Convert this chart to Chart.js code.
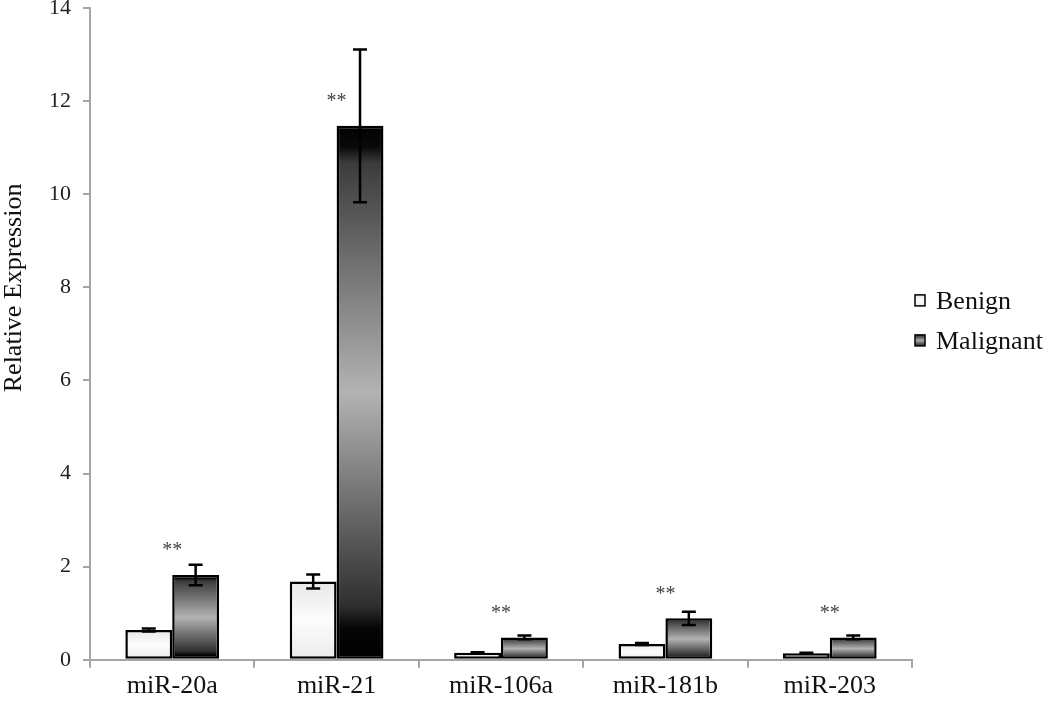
<!DOCTYPE html>
<html>
<head>
<meta charset="utf-8">
<script src="https://cdn.jsdelivr.net/npm/chart.js@4.4.1/dist/chart.umd.min.js"></script>
<style>
  html, body { margin: 0; padding: 0; background: #fff; }
  #wrap { width: 1050px; height: 705px; position: relative; }
</style>
</head>
<body>
<div id="wrap"><canvas id="chart"></canvas></div>
<script>
// Datos
const categories = ["miR-20a", "miR-21", "miR-106a", "miR-181b", "miR-203"]
const benign = [0.64, 1.68, 0.15, 0.34, 0.14]
const benignErr = [0.03, 0.15, 0.01, 0.02, 0.01]
const malignant = [1.82, 11.47, 0.48, 0.89, 0.48]
const malignantErr = [0.22, 1.64, 0.04, 0.14, 0.04]
const significance = ["**", "**", "**", "**", "**"]
const yTicks = [0, 2, 4, 6, 8, 10, 12, 14]
const yTitle = "Relative Expression"

const FONT = "'Liberation Serif', 'Times New Roman', serif"
const AXIS = "#a6a6a6"

const benignStops = [[0, "#e8e8e8"], [0.5, "#fcfcfc"], [1, "#ebebeb"]]
const malignantStops = [
  [0, "#000"], [0.04, "#0a0a0a"], [0.07, "#3c3c3c"],
  [0.5, "#b3b3b3"], [0.9, "#2e2e2e"], [0.94, "#060606"], [1, "#000"],
]

function makeGradient(ctx, top, bottom, stops) {
  const g = ctx.createLinearGradient(0, top, 0, bottom)
  stops.forEach(([o, c]) => g.addColorStop(o, c))
  return g
}

// Degradado vertical de cada barra, según su propio alto
function barGradient(ctx, stops, fallback) {
  const chart = ctx.chart
  if (ctx.type !== "data" || !chart.chartArea) return fallback
  const y = chart.scales.y
  const top = y.getPixelForValue(ctx.raw)
  const bottom = y.getPixelForValue(0)
  if (!isFinite(top) || bottom - top < 1) return fallback
  return makeGradient(chart.ctx, top, bottom, stops)
}

// Barras de error
const errorBars = {
  id: "errorBars",
  afterDatasetsDraw(chart) {
    const { ctx } = chart
    const y = chart.scales.y
    const errs = [benignErr, malignantErr]
    ctx.save()
    ctx.strokeStyle = "#000"
    ctx.lineWidth = 2.5
    chart.data.datasets.forEach((ds, di) => {
      chart.getDatasetMeta(di).data.forEach((bar, i) => {
        const v = ds.data[i]
        const e = errs[di][i]
        const yt = y.getPixelForValue(v + e)
        const yb = y.getPixelForValue(v - e)
        const cap = 7
        ctx.beginPath()
        ctx.moveTo(bar.x, yt); ctx.lineTo(bar.x, yb)
        ctx.moveTo(bar.x - cap, yt); ctx.lineTo(bar.x + cap, yt)
        ctx.moveTo(bar.x - cap, yb); ctx.lineTo(bar.x + cap, yb)
        ctx.stroke()
      })
    })
    ctx.restore()
  },
}

// Asteriscos, título del eje Y y leyenda
const annotations = {
  id: "annotations",
  afterDatasetsDraw(chart) {
    const { ctx, chartArea } = chart
    const x = chart.scales.x
    const y = chart.scales.y
    const midY = (chartArea.top + chartArea.bottom) / 2
    ctx.save()
    ctx.fillStyle = "#444"
    ctx.font = "20px " + FONT
    ctx.textAlign = "center"
    ctx.textBaseline = "middle"
    significance.forEach((s, i) => {
      ctx.fillText(s, x.getPixelForValue(i), y.getPixelForValue(malignant[i]) - 24)
    })

    // leyenda
    const legendStops = [benignStops, [[0, "#222"], [0.5, "#aaa"], [1, "#222"]]]
    ctx.textAlign = "left"
    ctx.font = "26px " + FONT
    chart.data.datasets.forEach((ds, i) => {
      const cy = midY - 33 + i * 40
      const bx = chartArea.right + 3
      ctx.fillStyle = makeGradient(ctx, cy - 6, cy + 5, legendStops[i])
      ctx.fillRect(bx, cy - 6, 10, 11)
      ctx.strokeStyle = "#000"
      ctx.lineWidth = 1.5
      ctx.strokeRect(bx, cy - 6, 10, 11)
      ctx.fillStyle = "#111"
      ctx.fillText(ds.label, chartArea.right + 24, cy + 1)
    })

    // título del eje, algo por encima del centro como en el original
    ctx.textAlign = "center"
    ctx.fillStyle = "#111"
    ctx.font = "26px " + FONT
    ctx.translate(14, midY - 46)
    ctx.rotate(-Math.PI / 2)
    ctx.fillText(yTitle, 0, 0)
    ctx.restore()
  },
}

new Chart(document.getElementById("chart"), {
  type: "bar",
  data: {
    labels: categories,
    datasets: [
      {
        label: "Benign",
        data: benign,
        backgroundColor: (c) => barGradient(c, benignStops, "#f4f4f4"),
        borderColor: "#000",
        borderWidth: 2.5,
        borderSkipped: false,
      },
      {
        label: "Malignant",
        data: malignant,
        backgroundColor: (c) => barGradient(c, malignantStops, "#888"),
        borderColor: "#000",
        borderWidth: 2.5,
        borderSkipped: false,
      },
    ],
  },
  options: {
    responsive: true,
    maintainAspectRatio: false,
    animation: false,
    layout: { padding: { top: 0, right: 138, left: 37, bottom: 0 } },
    datasets: { bar: { categoryPercentage: 0.57, barPercentage: 1 } },
    plugins: {
      tooltip: { enabled: false },
      legend: { display: false },
    },
    scales: {
      x: {
        offset: true,
        grid: { display: true, offset: true, drawOnChartArea: false, drawTicks: true, tickLength: 8, color: AXIS, lineWidth: 2 },
        border: { color: AXIS, width: 2 },
        ticks: { color: "#111", padding: 3, font: { family: FONT, size: 26 } },
      },
      y: {
        min: 0,
        max: 14,
        afterBuildTicks: (axis) => { axis.ticks = yTicks.map((v) => ({ value: v })) },
        afterFit: (axis) => { axis.paddingTop = 8 },
        grid: { display: true, drawOnChartArea: false, drawTicks: true, tickLength: 7, color: AXIS, lineWidth: 2 },
        border: { color: AXIS, width: 2 },
        ticks: { color: "#222", padding: 12, font: { family: FONT, size: 22 } },
      },
    },
  },
  plugins: [errorBars, annotations],
})
</script>
</body>
</html>
